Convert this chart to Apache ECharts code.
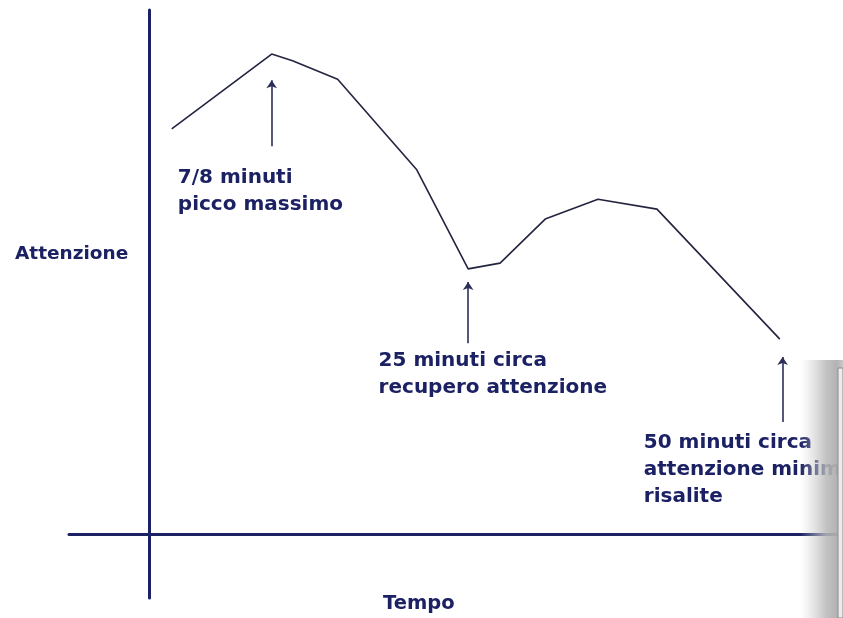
<!DOCTYPE html>
<html>
<head>
<meta charset="utf-8">
<script src="https://cdn.jsdelivr.net/npm/echarts@6/dist/echarts.min.js"></script>
<style>
html,body{margin:0;padding:0;background:#fff;}
#chart{width:843px;height:618px;}
</style>
</head>
<body>
<div id="chart"></div>
<script>
// Curve of attention over time (arbitrary units)
var curveTime = [3.3, 17.7, 20.7, 27.2, 38.6, 46.0, 50.6, 57.1, 64.7, 73.2, 90.9];
var curveAttention = [77.3, 91.6, 90.3, 86.8, 69.5, 50.6, 51.7, 60.1, 63.9, 62.0, 37.2];

// Arrows: x position, bottom and tip heights
var arrowTime = [17.7, 46.0, 91.3];
var arrowBottom = [74.0, 36.4, 21.4];
var arrowTip = [86.6, 48.1, 33.8];

// Annotations: anchor (top-left of text) and text
var noteTime = [4.18, 33.1, 71.3];
var noteLevel = [70.6, 35.7, 20.0];
var noteText = [
  '7/8 minuti\npicco massimo',
  '25 minuti circa\nrecupero attenzione',
  '50 minuti circa\nattenzione minima\nrisalite'
];

var yTitle = 'Attenzione';
var xTitle = 'Tempo';

var navy = '#1b2163';
var font = 'DejaVu Sans';

var chart = echarts.init(document.getElementById('chart'), null, {renderer: 'canvas'});

var lineData = curveTime.map(function (t, i) { return [t, curveAttention[i]]; });
var arrowData = arrowTime.map(function (t, i) { return {coords: [[t, arrowBottom[i]], [t, arrowTip[i]]]}; });
var noteData = noteTime.map(function (t, i) { return {value: [t, noteLevel[i]], name: noteText[i]}; });

chart.setOption({
  animation: false,
  backgroundColor: '#ffffff',
  grid: {left: 69, top: 10, width: 774, height: 588, containLabel: false},
  xAxis: {
    type: 'value', min: -11.5, max: 100,
    axisLine: {show: true, onZero: true, lineStyle: {color: navy, width: 3}},
    axisTick: {show: false}, axisLabel: {show: false}, splitLine: {show: false}
  },
  yAxis: {
    type: 'value', min: -12.2, max: 100,
    axisLine: {show: true, onZero: true, lineStyle: {color: navy, width: 3}},
    axisTick: {show: false}, axisLabel: {show: false}, splitLine: {show: false}
  },
  series: [
    {
      type: 'line',
      data: lineData,
      symbol: 'none',
      smooth: false,
      lineStyle: {color: '#23243f', width: 1.6},
      clip: false,
      z: 3
    },
    {
      type: 'lines',
      coordinateSystem: 'cartesian2d',
      data: arrowData,
      symbol: ['none', 'arrow'],
      symbolSize: [0, 8],
      lineStyle: {color: '#2b2f5a', width: 1.6, opacity: 1},
      z: 3
    },
    {
      type: 'scatter',
      data: noteData,
      symbolSize: 0,
      clip: false,
      itemStyle: {opacity: 1},
      emphasis: {disabled: true},
      label: {
        show: true,
        position: [0, 0],
        align: 'left',
        verticalAlign: 'top',
        formatter: function (p) { return p.name; },
        color: navy,
        opacity: 1,
        fontFamily: font,
        fontWeight: 'bold',
        fontSize: 20,
        lineHeight: 27
      },
      z: 4
    }
  ],
  graphic: [
    {
      type: 'text', left: 15, top: 245, z: 10,
      style: {text: yTitle, fill: navy, font: 'bold 18.5px "DejaVu Sans"'}
    },
    {
      type: 'text', left: 383, top: 594, z: 10,
      style: {text: xTitle, fill: navy, font: 'bold 19.5px "DejaVu Sans"'}
    },
    {
      type: 'rect', z: 20,
      shape: {x: 800, y: 360, width: 43, height: 258},
      style: {
        fill: new echarts.graphic.LinearGradient(0, 0, 1, 0, [
          {offset: 0, color: 'rgba(210,210,210,0)'},
          {offset: 0.6, color: 'rgba(185,185,185,0.85)'},
          {offset: 0.85, color: 'rgba(175,175,175,0.95)'},
          {offset: 1, color: 'rgba(200,200,200,1)'}
        ])
      }
    },
    {
      type: 'rect', z: 21,
      shape: {x: 838, y: 368, width: 5, height: 250},
      style: {fill: '#ececec', stroke: '#8a8a8a', lineWidth: 1}
    }
  ]
});
</script>
</body>
</html>
